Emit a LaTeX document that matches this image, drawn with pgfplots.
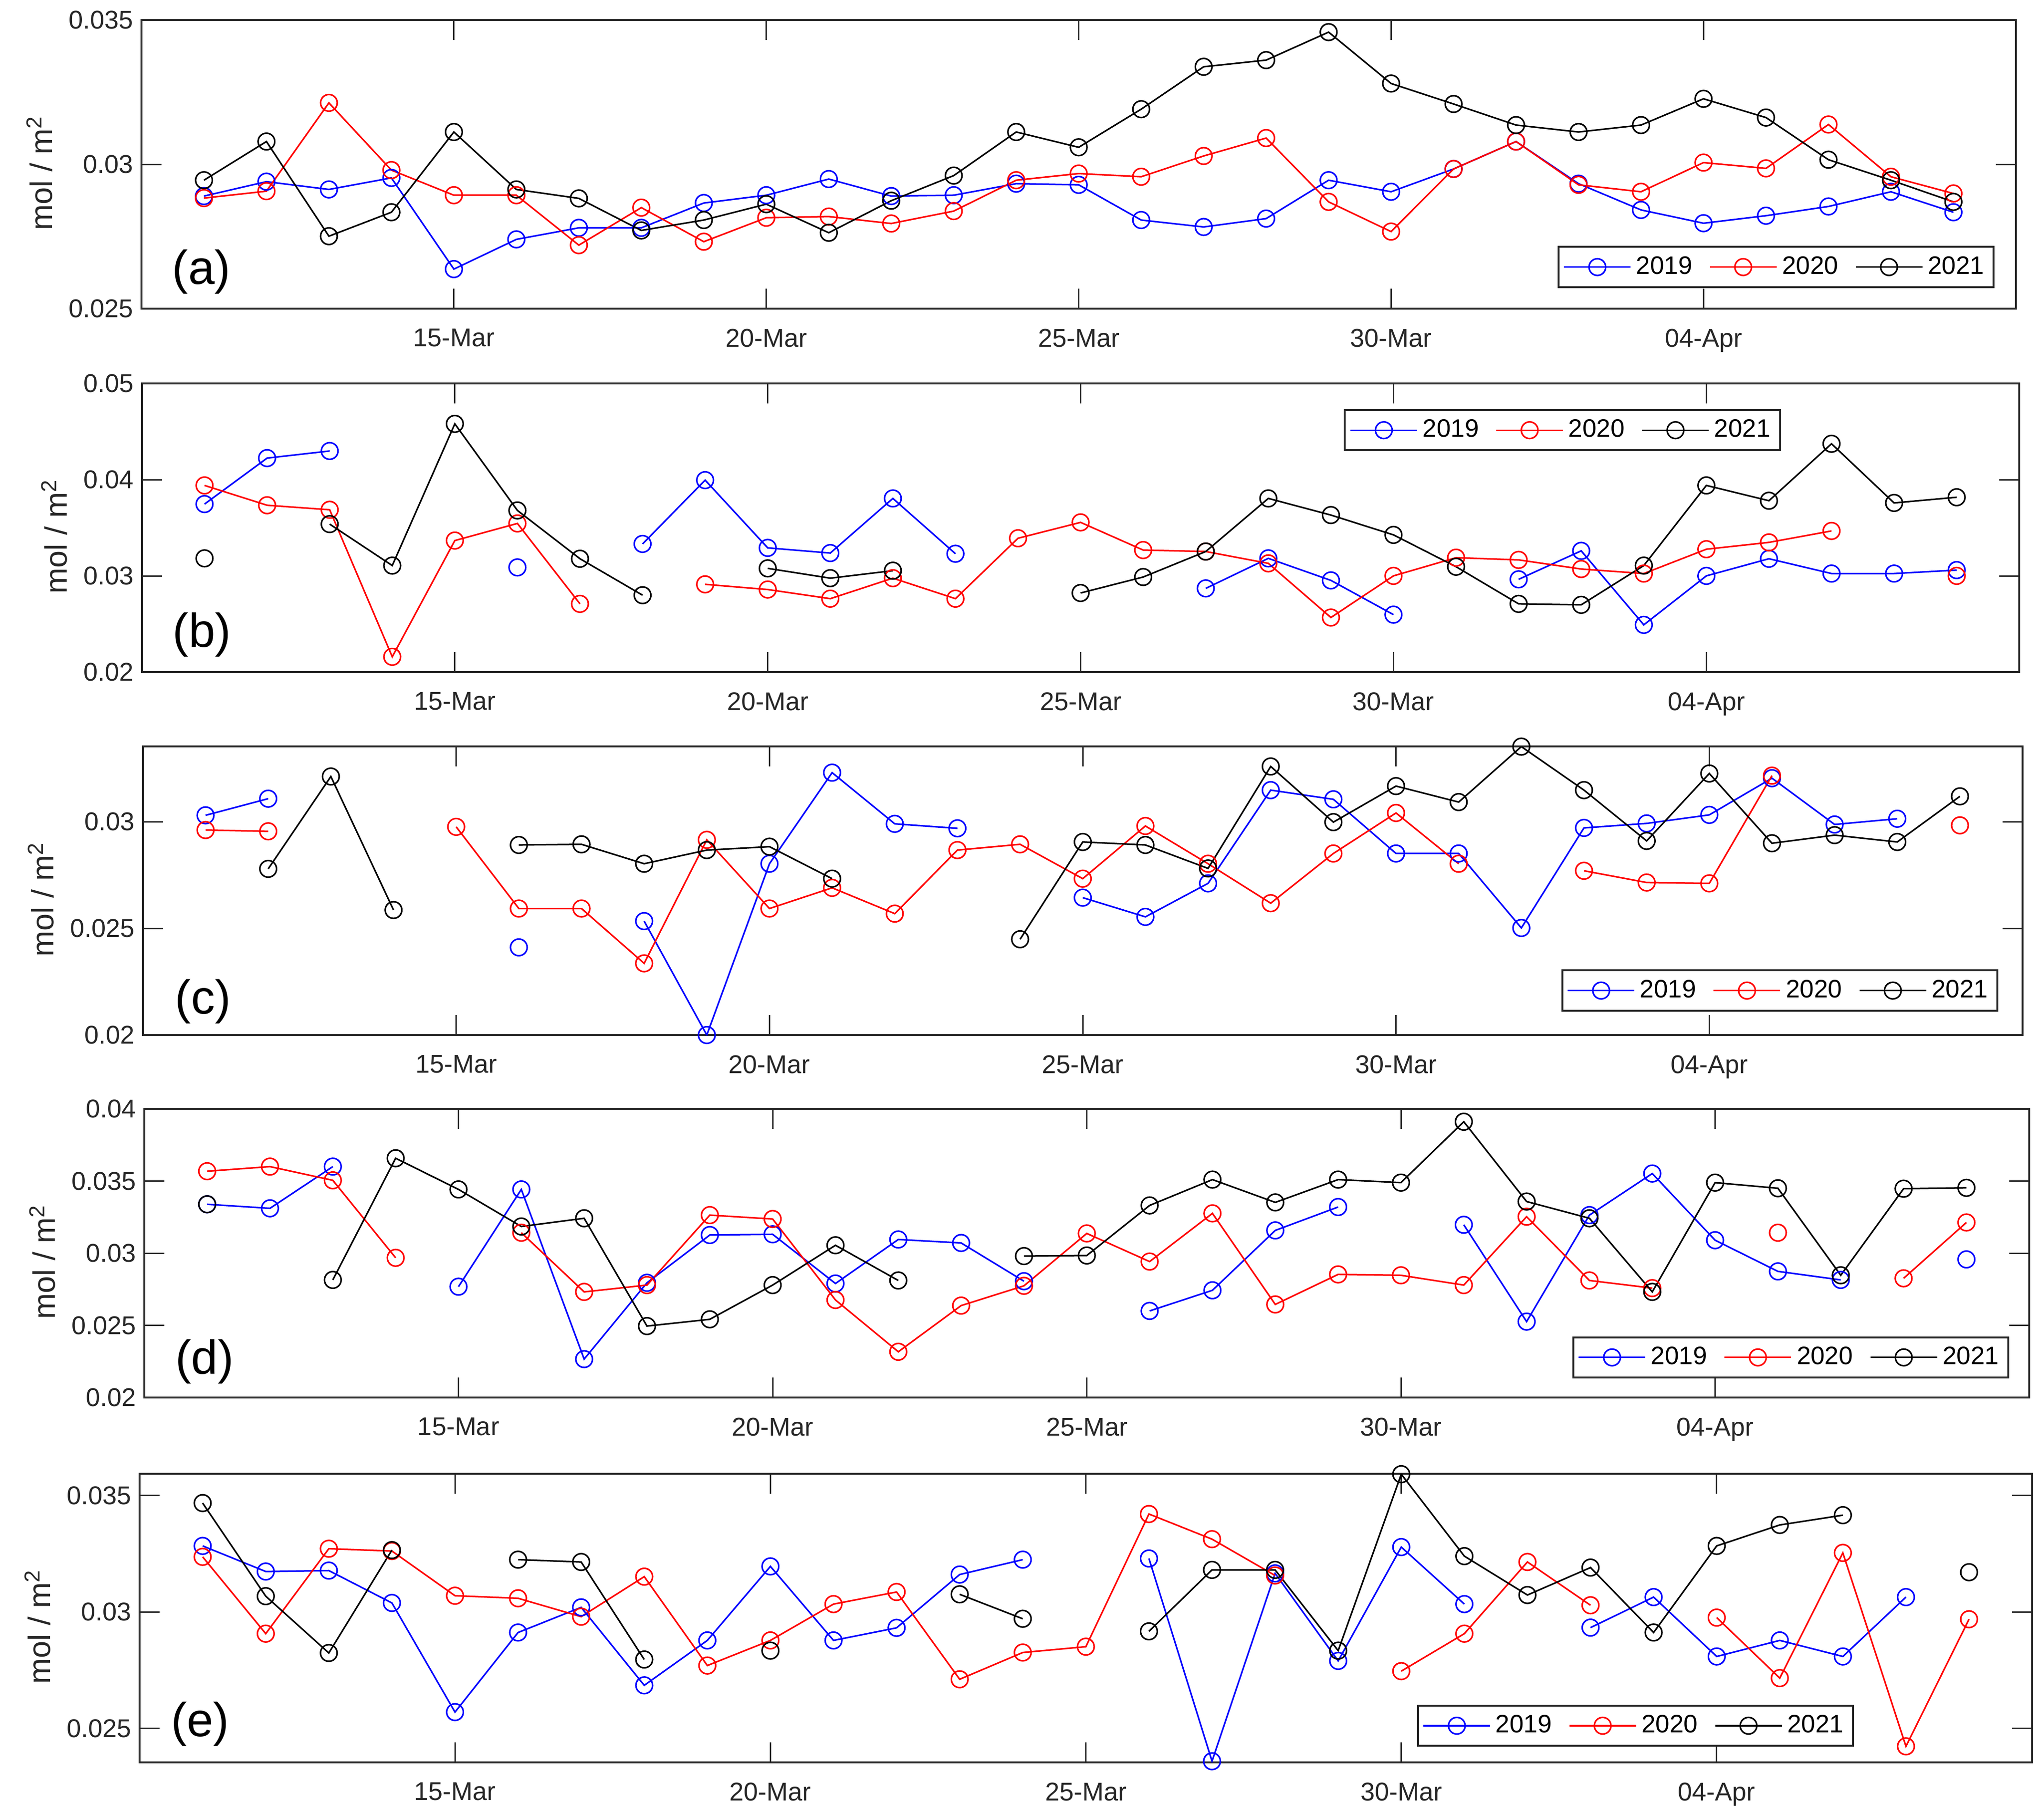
\documentclass[border=0pt]{standalone}
\usepackage{fontspec}
\setmainfont{Liberation Sans}
\usepackage{pgfplots}
\pgfplotsset{compat=1.18}

\definecolor{ax}{rgb}{0.15,0.15,0.15}

\tikzset{plab/.style={font=\fontsize{20}{24}\selectfont}}

\pgfplotsset{
  panel/.style={
    scale only axis, height=121.2pt,
    xmin=10, xmax=40,
    xtick={15,20,25,30,35},
    xticklabels={15-Mar,20-Mar,25-Mar,30-Mar,04-Apr},
    scaled y ticks=false,
    y tick label style={/pgf/number format/.cd, fixed, precision=3},
    /pgf/number format/assume math mode=true,
    tick align=inside, major tick length=8.4pt,
    axis line style={ax, line width=0.8pt},
    major tick style={ax, line width=0.6pt},
    tick label style={font=\fontsize{10.8}{12}\selectfont, text=ax},
    xticklabel style={yshift=-5pt},
    ylabel={mol / m\textsuperscript{2}},
    ylabel style={font=\fontsize{13}{15}\selectfont, text=ax, at={(ticklabel cs:0.47)}},
    unbounded coords=jump,
    legend columns=3,
    legend style={draw=ax, line width=0.8pt, font=\fontsize{10.6}{12}\selectfont,
      inner xsep=2pt, inner ysep=2pt,
      /tikz/every even column/.append style={column sep=5pt}},
    legend image code/.code={\draw[mark repeat=2,mark phase=2] plot coordinates {(0pt,0pt) (14pt,0pt) (28pt,0pt)};},
  },
  s19/.style={blue, line width=0.65pt, mark=o, mark size=3.5pt, mark options={solid}},
  s20/.style={red, line width=0.65pt, mark=o, mark size=3.5pt, mark options={solid}},
  s21/.style={black, line width=0.65pt, mark=o, mark size=3.5pt, mark options={solid}},
}

\begin{document}
\begin{tikzpicture}
\useasboundingbox (0,0) rectangle (858.2pt,-759.8pt);

% (a)
\begin{axis}[panel, at={(59.4pt,-8.4pt)}, anchor=north west, width=787pt,
  ymin=0.025, ymax=0.035, ytick={0.025,0.03,0.035},
  legend style={at={(0.9886,0.071)}, anchor=south east}]
\addplot[s19] coordinates {(11,0.0289) (12,0.0294) (13,0.02913) (14,0.02953) (15,0.02637) (16,0.0274) (17,0.0278) (18,0.0278) (19,0.02866) (20,0.02893) (21,0.02949) (22,0.0289) (23,0.02893) (24,0.02933) (25,0.02929) (26,0.02807) (27,0.02783) (28,0.02812) (29,0.02945) (30,0.02905) (31,0.02984) (32,0.03079) (33,0.02933) (34,0.02842) (35,0.02796) (36,0.02822) (37,0.02854) (38,0.02905) (39,0.02834)};
\addlegendentry{2019}
\addplot[s20] coordinates {(11,0.02883) (12,0.02907) (13,0.03213) (14,0.0298) (15,0.02893) (16,0.02893) (17,0.0272) (18,0.0285) (19,0.02732) (20,0.02815) (21,0.02819) (22,0.02795) (23,0.02838) (24,0.02945) (25,0.02968) (26,0.02957) (27,0.03029) (28,0.03091) (29,0.0287) (30,0.02767) (31,0.02984) (32,0.03079) (33,0.02929) (34,0.02905) (35,0.03006) (36,0.02986) (37,0.03138) (38,0.02957) (39,0.02899)};
\addlegendentry{2020}
\addplot[s21] coordinates {(11,0.02945) (12,0.03079) (13,0.02751) (14,0.02834) (15,0.03112) (16,0.02913) (17,0.02882) (18,0.02771) (19,0.02807) (20,0.02862) (21,0.02763) (22,0.02874) (23,0.02961) (24,0.03112) (25,0.03059) (26,0.03191) (27,0.03338) (28,0.03361) (29,0.03458) (30,0.0328) (31,0.03209) (32,0.03136) (33,0.03112) (34,0.03136) (35,0.03227) (36,0.03162) (37,0.03016) (38,0.02945) (39,0.0287)};
\addlegendentry{2021}
\node[plab] at (axis description cs:0.032,0.127) {(a)};
\end{axis}

% (b)
\begin{axis}[panel, at={(59.6pt,-161pt)}, anchor=north west, width=788.2pt,
  ymin=0.02, ymax=0.05, ytick={0.02,0.03,0.04,0.05},
  legend style={at={(0.8731,0.911)}, anchor=north east}]
\addplot[s19] coordinates {(11,0.03746) (12,0.04224) (13,0.04298) (14,nan) (15,nan) (16,0.03088) (17,nan) (18,0.03332) (19,0.03995) (20,0.03291) (21,0.03237) (22,0.03805) (23,0.0323) (24,nan) (25,nan) (26,nan) (27,0.0287) (28,0.03182) (29,0.02953) (30,0.02597) (31,nan) (32,0.02964) (33,0.0326) (34,0.02491) (35,0.03) (36,0.03178) (37,0.03024) (38,0.03024) (39,0.0306)};
\addlegendentry{2019}
\addplot[s20] coordinates {(11,0.0394) (12,0.03734) (13,0.03687) (14,0.02159) (15,0.03367) (16,0.03545) (17,0.02709) (18,nan) (19,0.02912) (20,0.02858) (21,0.02763) (22,0.02976) (23,0.02763) (24,0.03391) (25,0.03556) (26,0.03268) (27,0.03253) (28,0.0313) (29,0.02567) (30,0.03) (31,0.03189) (32,0.03166) (33,0.03071) (34,0.03024) (35,0.03277) (36,0.03348) (37,0.03467) (38,nan) (39,0.03)};
\addlegendentry{2020}
\addplot[s21] coordinates {(11,0.03182) (12,nan) (13,0.03538) (14,0.03107) (15,0.0458) (16,0.0368) (17,0.03178) (18,0.02799) (19,nan) (20,0.03078) (21,0.02976) (22,0.03054) (23,nan) (24,nan) (25,0.02822) (26,0.02988) (27,0.03253) (28,0.03805) (29,0.03632) (30,0.03426) (31,0.03095) (32,0.02709) (33,0.02699) (34,0.03107) (35,0.0394) (36,0.03781) (37,0.04373) (38,0.03758) (39,0.03817)};
\addlegendentry{2021}
\node[plab] at (axis description cs:0.032,0.129) {(b)};
\end{axis}

% (c)
\begin{axis}[panel, at={(60pt,-313.4pt)}, anchor=north west, width=789.2pt,
  ymin=0.02, ymax=0.03353, ytick={0.02,0.025,0.03},
  legend style={at={(0.9871,0.081)}, anchor=south east}]
\addplot[s19] coordinates {(11,0.0303) (12,0.03108) (13,nan) (14,nan) (15,nan) (16,0.02411) (17,nan) (18,0.02534) (19,0.02) (20,0.02803) (21,0.0323) (22,0.0299) (23,0.02969) (24,nan) (25,0.02644) (26,0.02554) (27,0.02711) (28,0.03148) (29,0.03105) (30,0.02851) (31,0.02851) (32,0.02502) (33,0.02971) (34,0.02992) (35,0.03032) (36,0.03204) (37,0.02987) (38,0.03014) (39,nan)};
\addlegendentry{2019}
\addplot[s20] coordinates {(11,0.02961) (12,0.02955) (13,nan) (14,nan) (15,0.02976) (16,0.02593) (17,0.02593) (18,0.02336) (19,0.02915) (20,0.02593) (21,0.0269) (22,0.02569) (23,0.02867) (24,0.02894) (25,0.02733) (26,0.0298) (27,0.02803) (28,0.02618) (29,0.02851) (30,0.03041) (31,0.02803) (32,nan) (33,0.0277) (34,0.02715) (35,0.02711) (36,0.03216) (37,nan) (38,nan) (39,0.02983)};
\addlegendentry{2020}
\addplot[s21] coordinates {(11,nan) (12,0.02779) (13,0.03212) (14,0.02586) (15,nan) (16,0.02891) (17,0.02894) (18,0.02803) (19,0.02867) (20,0.02883) (21,0.02733) (22,nan) (23,nan) (24,0.02449) (25,0.02905) (26,0.02891) (27,0.02781) (28,0.03259) (29,0.02998) (30,0.03167) (31,0.03092) (32,0.03352) (33,0.03148) (34,0.0291) (35,0.03226) (36,0.02899) (37,0.02937) (38,0.02905) (39,0.03119)};
\addlegendentry{2021}
\node[plab] at (axis description cs:0.032,0.117) {(c)};
\end{axis}

% (d)
\begin{axis}[panel, at={(60.6pt,-465.6pt)}, anchor=north west, width=791.4pt,
  ymin=0.02, ymax=0.04, ytick={0.02,0.025,0.03,0.035,0.04},
  legend style={at={(0.9894,0.066)}, anchor=south east}]
\addplot[s19] coordinates {(11,0.03339) (12,0.03311) (13,0.036) (14,nan) (15,0.02768) (16,0.03442) (17,0.02266) (18,0.02795) (19,0.03126) (20,0.03131) (21,0.0279) (22,0.03095) (23,0.03071) (24,0.02806) (25,nan) (26,0.026) (27,0.02743) (28,0.03158) (29,0.0332) (30,nan) (31,0.03197) (32,0.02526) (33,0.03264) (34,0.03552) (35,0.0309) (36,0.02874) (37,0.02815) (38,nan) (39,0.02957)};
\addlegendentry{2019}
\addplot[s20] coordinates {(11,0.03568) (12,0.036) (13,0.03505) (14,0.02968) (15,nan) (16,0.03142) (17,0.02732) (18,0.02779) (19,0.03264) (20,0.03237) (21,0.02676) (22,0.02317) (23,0.02637) (24,0.02774) (25,0.03137) (26,0.02942) (27,0.03276) (28,0.02645) (29,0.02853) (30,0.02847) (31,0.02779) (32,0.03253) (33,0.02811) (34,0.02758) (35,nan) (36,0.03142) (37,nan) (38,0.02826) (39,0.03213)};
\addlegendentry{2020}
\addplot[s21] coordinates {(11,0.03339) (12,nan) (13,0.02815) (14,0.03658) (15,0.03442) (16,0.03185) (17,0.03242) (18,0.02495) (19,0.02542) (20,0.02779) (21,0.03055) (22,0.02811) (23,nan) (24,0.0298) (25,0.02984) (26,0.03331) (27,0.0351) (28,0.03352) (29,0.0351) (30,0.03489) (31,0.03911) (32,0.03358) (33,0.03242) (34,0.02732) (35,0.03489) (36,0.0345) (37,0.02847) (38,0.03447) (39,0.03453)};
\addlegendentry{2021}
\node[plab] at (axis description cs:0.032,0.125) {(d)};
\end{axis}

% (e)
\begin{axis}[panel, at={(58.6pt,-618.8pt)}, anchor=north west, width=794.6pt,
  ymin=0.02354, ymax=0.03594, ytick={0.025,0.03,0.035},
  legend style={at={(0.9059,0.054)}, anchor=south east}]
\addplot[s19] coordinates {(11,0.03284) (12,0.03174) (13,0.03178) (14,0.03039) (15,0.0257) (16,0.02912) (17,0.0302) (18,0.02685) (19,0.02878) (20,0.03196) (21,0.02878) (22,0.02932) (23,0.03161) (24,0.03225) (25,nan) (26,0.0323) (27,0.02359) (28,0.03166) (29,0.0279) (30,0.03279) (31,0.03034) (32,nan) (33,0.02933) (34,0.03064) (35,0.02809) (36,0.02878) (37,0.02809) (38,0.03064) (39,nan)};
\addlegendentry{2019}
\addplot[s20] coordinates {(11,0.03237) (12,0.02907) (13,0.03272) (14,0.03262) (15,0.0307) (16,0.03059) (17,0.0298) (18,0.03152) (19,0.0277) (20,0.02878) (21,0.03034) (22,0.03086) (23,0.02711) (24,0.02826) (25,0.02851) (26,0.03421) (27,0.03313) (28,0.03157) (29,nan) (30,0.02746) (31,0.02907) (32,0.03215) (33,0.03029) (34,nan) (35,0.02976) (36,0.02716) (37,0.03254) (38,0.02423) (39,0.02969)};
\addlegendentry{2020}
\addplot[s21] coordinates {(11,0.03468) (12,0.03068) (13,0.02824) (14,0.03266) (15,nan) (16,0.03225) (17,0.03215) (18,0.02796) (19,nan) (20,0.02834) (21,nan) (22,nan) (23,0.03076) (24,0.02971) (25,nan) (26,0.02917) (27,0.03181) (28,0.03181) (29,0.02834) (30,0.03592) (31,0.0324) (32,0.03073) (33,0.03191) (34,0.02912) (35,0.03284) (36,0.03374) (37,0.03416) (38,nan) (39,0.03171)};
\addlegendentry{2021}
\node[plab] at (axis description cs:0.032,0.132) {(e)};
\end{axis}
\end{tikzpicture}
\end{document}
